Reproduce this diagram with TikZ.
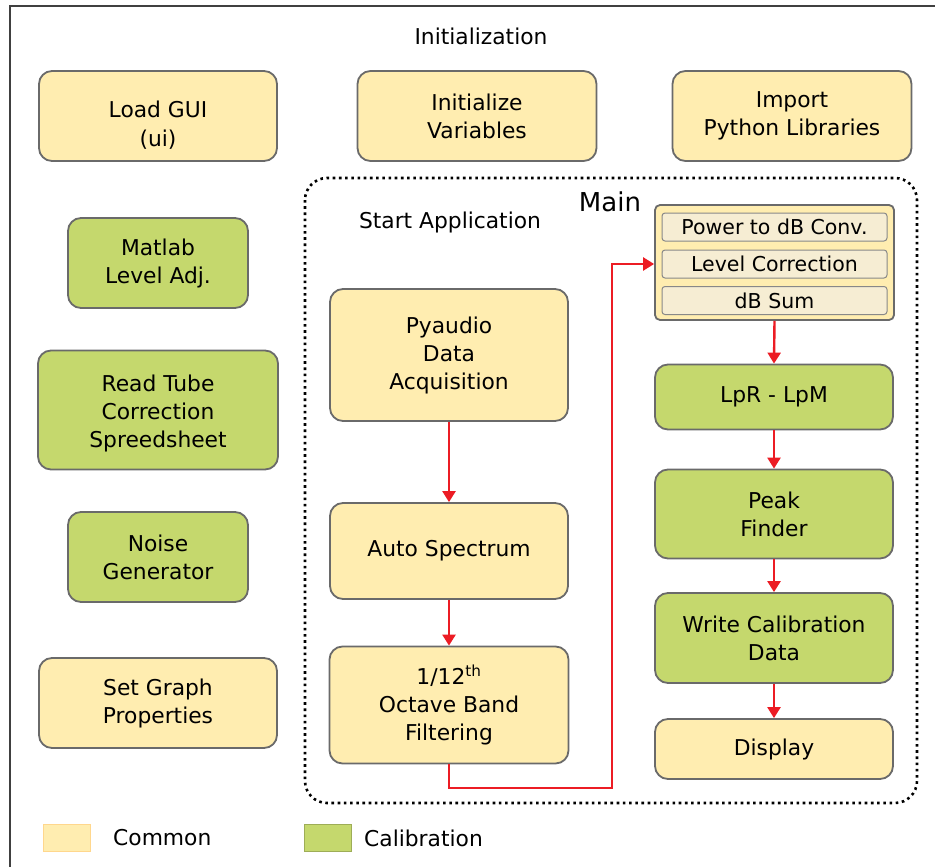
\documentclass[tikz,border=0pt]{standalone}
\usepackage{fontspec}
\setmainfont{DejaVu Sans}
\usetikzlibrary{arrows.meta}
\definecolor{cyel}{HTML}{FFEDB0}
\definecolor{cgrn}{HTML}{C5D86D}
\definecolor{cbord}{HTML}{6A6A6A}
\definecolor{crow}{HTML}{F6EDD3}
\definecolor{cred}{HTML}{EC1C24}
\tikzset{
  boxbase/.style={draw=cbord, line width=1.8pt, rounded corners=13pt, align=center,
    font=\fontsize{21.8}{28}\selectfont, inner sep=0pt},
  cbox/.style={boxbase, fill=cyel},
  gbox/.style={boxbase, fill=cgrn},
  rowbox/.style={draw=cbord!80, line width=1pt, fill=crow, rounded corners=3pt,
    minimum width=225pt, minimum height=28pt, inner sep=0pt, font=\fontsize{20.5}{24}\selectfont},
  flow/.style={draw=cred, line width=2.4pt, -{Triangle[length=11pt,width=13pt]}},
  lbl/.style={font=\fontsize{21.8}{26}\selectfont, inner sep=0pt},
  mainframe/.style={draw=black, line width=2.6pt, dash pattern=on 2.6pt off 3.6pt, rounded corners=22pt}
}
\begin{document}
\begin{tikzpicture}[x=1pt,y=-1pt]
\useasboundingbox (0,0) rectangle (935,867);
\fill[white] (0,0) rectangle (935,867);
\draw[draw=black!75, line width=1.2pt] (10,867) coordinate (fl) -- (10,6) coordinate (ft) -- (935,6) coordinate (fr);

\node[lbl] (init) at (481,36) {Initialization};

% top row
\node[cbox, minimum width=238pt, minimum height=90pt] (gui) at (158,116) {};
\node[lbl, align=center, font=\fontsize{21.8}{29}\selectfont] (guitxt) at (158,125) {Load GUI\\(ui)};
\node[cbox, minimum width=239pt, minimum height=90pt] (vars) at (477,116) {Initialize\\Variables};
\node[cbox, minimum width=239pt, minimum height=90pt] (libs) at (792,116) {Import\\Python Libraries};

% left column
\node[gbox, minimum width=180pt, minimum height=90pt] (matlab) at (158,263) {Matlab\\Level Adj.};
\node[gbox, minimum width=240pt, minimum height=119pt] (tube) at (158,410) {};
\node[lbl, align=center, font=\fontsize{21.8}{28}\selectfont] (tubetxt) at (158,413) {Read Tube\\Correction\\Spreedsheet};
\node[gbox, minimum width=180pt, minimum height=90pt] (noise) at (158,557) {Noise\\Generator};
\node[cbox, minimum width=238pt, minimum height=90pt] (graph) at (158,703) {Set Graph\\Properties};

% main frame
\draw[mainframe] (305,178) rectangle (917,803);
\node[font=\fontsize{26}{30}\selectfont, inner sep=0pt] (mainlbl) at (610,202) {Main};
\node[lbl] (start) at (450,222) {Start Application};

% main middle column
\node[cbox, minimum width=238pt, minimum height=132pt] (pya) at (449,355) {Pyaudio\\Data\\Acquisition};
\node[cbox, minimum width=238pt, minimum height=96pt] (auto) at (449,551) {Auto Spectrum};
\node[cbox, minimum width=239pt, minimum height=117pt] (oct) at (449,705) {1/12\textsuperscript{th}\\Octave Band\\Filtering};

% power box
\node[draw=cbord, line width=1.8pt, fill=cyel, rounded corners=5pt, minimum width=239pt, minimum height=115pt, inner sep=0pt] (pow) at (774.5,262.5) {};
\node[rowbox] (r1) at (774.5,227) {Power to dB Conv.};
\node[rowbox] (r2) at (774.5,264) {Level Correction};
\node[rowbox] (r3) at (774.5,300.5) {dB Sum};

% right column
\node[gbox, minimum width=238pt, minimum height=65pt] (lpr) at (774,397) {LpR - LpM};
\node[gbox, minimum width=238pt, minimum height=89pt] (peak) at (774,514) {Peak\\Finder};
\node[gbox, minimum width=238pt, minimum height=90pt] (write) at (774,638) {Write Calibration\\Data};
\node[cbox, minimum width=238pt, minimum height=60pt] (disp) at (774,749) {Display};

% arrows
\draw[flow] (pya.south) -- (auto.north);
\draw[flow] (auto.south) -- (oct.north);
\coordinate (c2) at (612,788);
\coordinate (c3) at (612,264);
\draw[flow] (oct.south) -- (oct.south |- c2) -- (c2) -- (c3) -- (pow.west |- c3);
\draw[flow] (pow.south) -- (lpr.north);
\draw[flow] (lpr.south) -- (peak.north);
\draw[flow] (peak.south) -- (write.north);
\draw[flow] (write.south) -- (disp.north);

% legend
\node[fill=cyel, draw=cyel!80!orange, line width=0.6pt, minimum width=47pt, minimum height=27pt, inner sep=0pt] (lc) at (67,838) {};
\node[lbl, anchor=west] (lct) at (113,838) {Common};
\node[fill=cgrn, draw=cgrn!80!black, line width=0.6pt, minimum width=47pt, minimum height=27pt, inner sep=0pt] (lg) at (327.5,838) {};
\node[lbl, anchor=west] (lgt) at (364,838) {Calibration};
\end{tikzpicture}
\end{document}
